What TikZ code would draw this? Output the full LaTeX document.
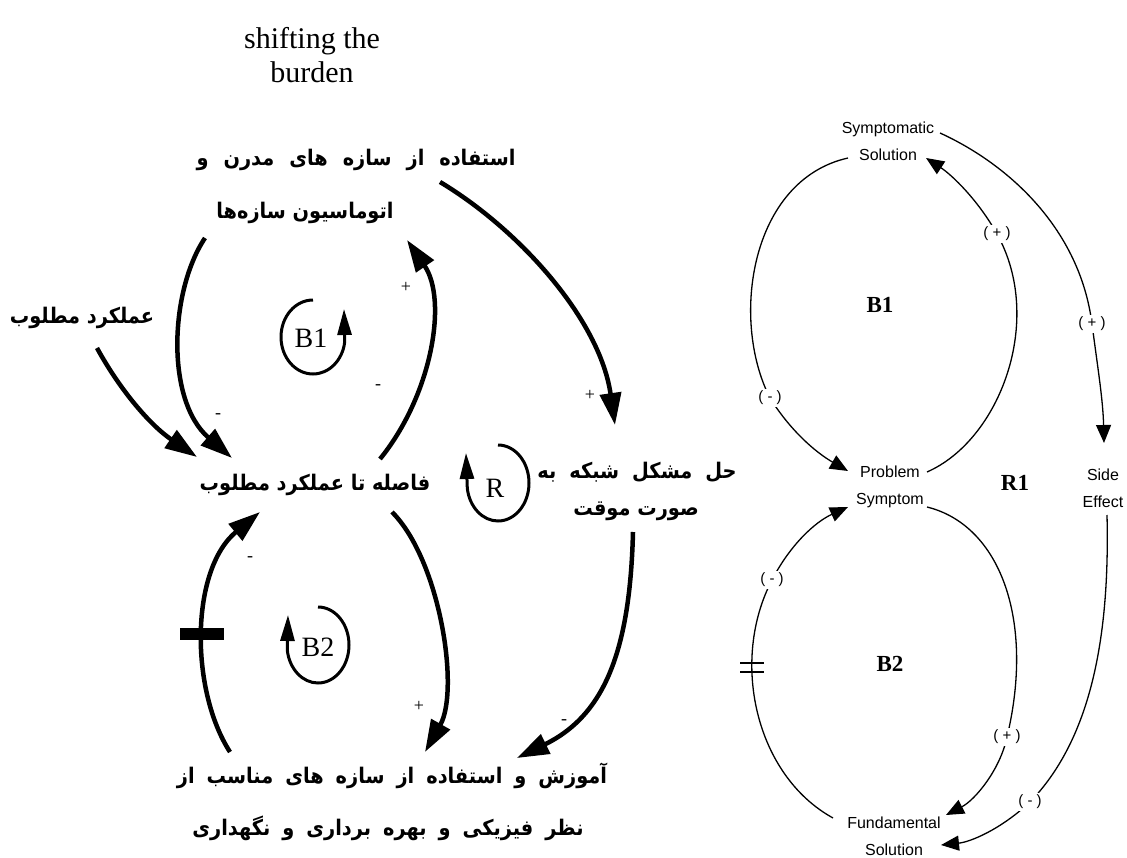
\documentclass[tikz,border=0pt]{standalone}
\usepackage{fontspec}
\setmainfont{Liberation Serif}
\newfontfamily\fa[Script=Arabic, FakeStretch=0.9]{DejaVu Sans}
\newfontfamily\lbl{Liberation Sans}
\TeXXeTstate=1
\usetikzlibrary{arrows.meta}
\newcommand{\fawide}[1]{\spaceskip=#1\relax}

\tikzset{
  faword/.style={inner sep=1pt, font=\fa\bfseries\fontsize{21.5}{25}\selectfont},
  hdr/.style={font=\fontsize{30}{34}\selectfont, align=center, inner sep=0pt},
  thickarrow/.style={line width=4.5pt, -{Triangle[length=32pt,width=21pt]}},
  sign/.style={font=\fontsize{18}{18}\selectfont, inner sep=0pt},
  loopline/.style={line width=3pt, -{Triangle[length=26pt,width=14pt]}},
  looptag/.style={font=\fontsize{28}{28}\selectfont, inner sep=0pt},
  thinarrow/.style={line width=1.3pt, -{Triangle[length=18pt,width=15pt]}},
  var/.style={font=\lbl\fontsize{16}{27}\selectfont, align=center, inner sep=0pt},
  polarity/.style={font=\lbl\fontsize{15}{15}\selectfont, fill=white, inner sep=2pt},
  looptagr/.style={font=\bfseries\fontsize{23}{23}\selectfont, inner sep=0pt},
}

\begin{document}
\begin{tikzpicture}[x=1pt,y=-1pt]
\useasboundingbox (0,0) rectangle (1127,858);

% ---------- left: causal loop diagram in Persian ----------
\node[hdr] (title) at (312,55) {shifting the\\burden};

\node[faword] (top1)   at (356,160) {\fawide{15pt}\beginR استفاده از سازه های مدرن و\endR};
\node[faword] (top2)   at (305,213) {\beginR اتوماسیون سازه‌ها\endR};
\node[faword] (want)   at (82,318)  {\beginR عملکرد مطلوب\endR};
\node[faword] (gap)    at (315,485) {\beginR فاصله تا عملکرد مطلوب\endR};
\node[faword] (quick1) at (637,472) {\fawide{13pt}\beginR حل مشکل شبکه به\endR};
\node[faword] (quick2) at (636,511) {\beginR صورت موقت\endR};
\node[faword] (train1) at (392,776) {\fawide{12pt}\beginR آموزش و استفاده از سازه های مناسب از\endR};
\node[faword] (train2) at (388,828) {\fawide{12pt}\beginR نظر فیزیکی و بهره برداری و نگهداری\endR};

% B1 loop
\draw[thickarrow] ([shift={(-100,25)}]top2.center) .. controls (170,290) and (165,400) .. ([shift={(-83,-27)}]gap.center);
\draw[thickarrow] ([shift={(15,30)}]want.center) .. controls (120,390) and (150,425) .. ([shift={(-118,-28)}]gap.center);
\draw[thickarrow] ([shift={(65,-26)}]gap.center) .. controls (432,395) and (448,300) .. ([shift={(102,27)}]top2.center);
% R loop
\draw[thickarrow] ([shift={(84,22)}]top1.center) .. controls (520,230) and (600,320) .. ([shift={(-22,-47)}]quick1.center);
\draw[thickarrow] ([shift={(-3,21)}]quick2.center) .. controls (630,650) and (605,715) .. ([shift={(125,-18)}]train1.center);
% B2 loop
\draw[thickarrow] ([shift={(77,27)}]gap.center) .. controls (440,560) and (460,690) .. ([shift={(33,-24)}]train1.center);
\draw[thickarrow] ([shift={(-162,-24)}]train1.center) .. controls (190,690) and (190,570) .. ([shift={(-55,27)}]gap.center);
% delay bar
\draw[line width=12pt] (180,634) -- (224,634);

\node[sign] (s1) at (218,416) {-};
\node[sign] (s2) at (406,287) {+};
\node[sign] (s3) at (378,387) {-};
\node[sign] (s4) at (590,395) {+};
\node[sign] (s5) at (250,559) {-};
\node[sign] (s6) at (419,706) {+};
\node[sign] (s7) at (564,722) {-};

% loop markers
\node[looptag] (b1) at (311,338) {B1};
\draw[loopline] (313,300) arc[start angle=-90, end angle=-352, x radius=32, y radius=37] -- (344,309);
\node[looptag] (b2) at (318,647) {B2};
\draw[loopline] (318,607) arc[start angle=-90, end angle=172, x radius=31, y radius=38] -- (288,615);
\node[looptag] (r) at (495,488) {R};
\draw[loopline] (498,445) arc[start angle=-90, end angle=172, x radius=31, y radius=38] -- (466,453);

% ---------- right: generic archetype ----------
\node[var] (symp) at (888,141) {Symptomatic\\Solution};
\node[var] (prob) at (890,487) {Problem\\Symptom};
\node[var] (side) at (1103,488) {Side\\Effect};
\node[var] (fund) at (894,836) {Fundamental\\Solution};
\node[looptagr] (b1r) at (880,305) {B1};
\node[looptagr] (r1)  at (1015,483) {R1};
\node[looptagr] (b2r) at (890,664) {B2};

\draw[thinarrow] ([shift={(-40,17)}]symp.center) .. controls (750,180) and (730,320) .. (770,398) node[polarity]{(\;-\;)} .. controls (790,430) and (815,452) .. ([shift={(-42,-16)}]prob.center);
\draw[thinarrow] ([shift={(37,-15)}]prob.center) .. controls (1000,440) and (1045,320) .. (997,234) node[polarity]{(\;+\;)} .. controls (978,200) and (952,175) .. ([shift={(38,17)}]symp.center);
\draw[thinarrow] ([shift={(52,-8)}]symp.center) .. controls (1010,165) and (1080,230) .. (1092,324) node[polarity]{(\;+\;)} .. controls (1098,370) and (1103,400) .. ([shift={(1,-45)}]side.center);
\draw[thinarrow] ([shift={(4,27)}]side.center) .. controls (1110,640) and (1090,740) .. (1030,802) node[polarity]{(\;-\;)} .. controls (1000,830) and (970,842) .. ([shift={(47,9)}]fund.center);
\draw[thinarrow] ([shift={(-61,-18)}]fund.center) .. controls (755,775) and (730,660) .. (772,580) node[polarity]{(\;-\;)} .. controls (790,545) and (815,522) .. ([shift={(-42,20)}]prob.center);
\draw[thinarrow] ([shift={(37,20)}]prob.center) .. controls (1000,525) and (1035,620) .. (1007,737) node[polarity]{(\;+\;)} .. controls (1000,770) and (975,800) .. ([shift={(52,-21)}]fund.center);
% delay mark
\draw[line width=1.2pt] (740,663) -- (764,663) (740,672) -- (764,672);
\end{tikzpicture}
\end{document}
